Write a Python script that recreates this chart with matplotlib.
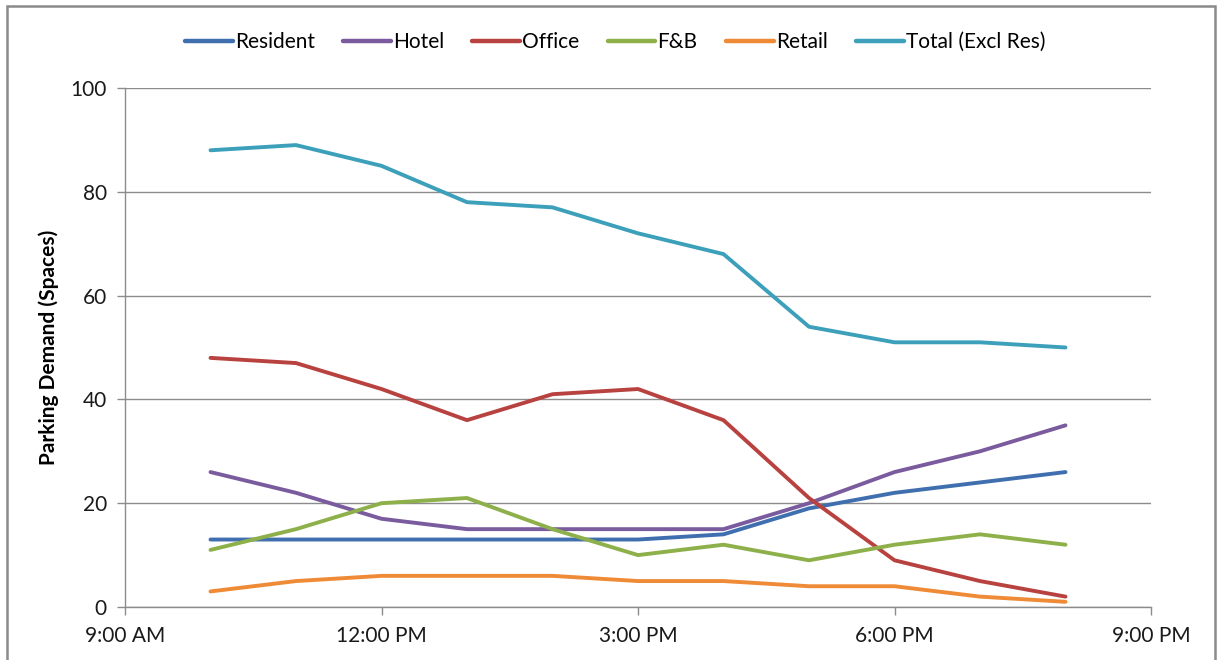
import matplotlib
matplotlib.use("Agg")
import matplotlib.pyplot as plt
import matplotlib.dates as mdates
from matplotlib.patches import Rectangle
import datetime as dt

plt.rcParams['font.family'] = ['Lato', 'DejaVu Sans']

hours = [10, 11, 12, 13, 14, 15, 16, 17, 18, 19, 20]
series_names = ["Resident", "Hotel", "Office", "F&B", "Retail", "Total (Excl Res)"]
resident = [13, 13, 13, 13, 13, 13, 14, 19, 22, 24, 26]
hotel = [26, 22, 17, 15, 15, 15, 15, 20, 26, 30, 35]
office = [48, 47, 42, 36, 41, 42, 36, 21, 9, 5, 2]
fnb = [11, 15, 20, 21, 15, 10, 12, 9, 12, 14, 12]
retail = [3, 5, 6, 6, 6, 5, 5, 4, 4, 2, 1]
total = [88, 89, 85, 78, 77, 72, 68, 54, 51, 51, 50]
colors = ["#3F6FAE", "#7A5C9E", "#B8423F", "#8DB04A", "#EF8A36", "#3CA0BA"]

base = dt.datetime(2020, 1, 1)
x = [base + dt.timedelta(hours=h) for h in hours]

fig = plt.figure(figsize=(12.21, 6.6), dpi=100)
ax = fig.add_axes([125/1221, 53/660, 1026/1221, 519/660])

for name, vals, c in zip(series_names, [resident, hotel, office, fnb, retail, total], colors):
    ax.plot(x, vals, color=c, lw=2.8, label=name, solid_capstyle='round', solid_joinstyle='round')

ax.set_xlim(base + dt.timedelta(hours=9), base + dt.timedelta(hours=21))
ax.set_ylim(0, 100)
ax.xaxis.set_major_locator(mdates.HourLocator(byhour=[9, 12, 15, 18, 21]))
ax.xaxis.set_major_formatter(mdates.DateFormatter('%-I:%M %p'))
ax.set_yticks([0, 20, 40, 60, 80, 100])
ax.grid(axis='y', color='#8c8c8c', lw=1)
ax.set_axisbelow(True)
for s in ['top', 'right']:
    ax.spines[s].set_visible(False)
for s in ['left', 'bottom']:
    ax.spines[s].set_color('#8c8c8c')
    ax.spines[s].set_linewidth(1)
ax.tick_params(axis='both', colors='#8c8c8c', labelcolor='#1a1a1a', labelsize=15, length=6, width=1)
ax.tick_params(axis='y', pad=7)
ax.tick_params(axis='x', pad=8)
ax.set_ylabel("Parking Demand (Spaces)", fontsize=15, fontweight='bold', labelpad=8)

leg = fig.legend(loc='center', bbox_to_anchor=(615/1221, 1 - 42/660), ncol=6, frameon=False,
                 fontsize=15, handlelength=2.3, handletextpad=0.1, columnspacing=1.35)
for h in leg.get_lines():
    h.set_linewidth(3.2)

fig.patches.append(Rectangle((7/1221, -0.05), 1208/1221, 1.05 - 6/660, transform=fig.transFigure,
                             fill=False, edgecolor='#8a8a8a', lw=1.8))

fig.savefig("out.png", dpi=100)
